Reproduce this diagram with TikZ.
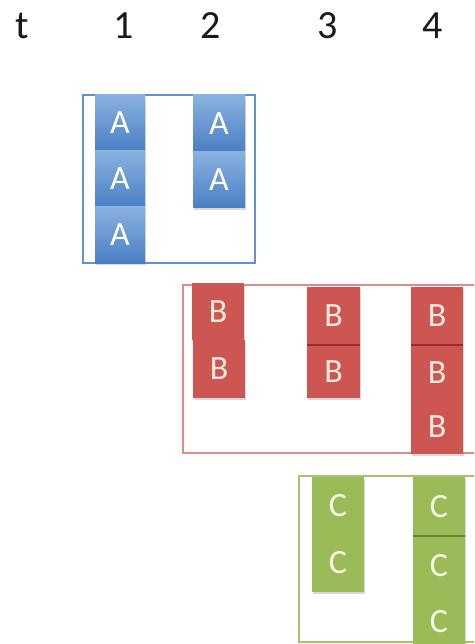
\documentclass[tikz,border=0pt]{standalone}
\usepackage{fontspec}
\setmainfont{Carlito}
\usetikzlibrary{shadows}
\definecolor{atop}{RGB}{138,178,224}
\definecolor{abot}{RGB}{74,126,196}
\definecolor{aframe}{RGB}{96,146,210}
\definecolor{bfill}{RGB}{206,86,82}
\definecolor{bline}{RGB}{150,45,43}
\definecolor{btext}{RGB}{253,236,222}
\definecolor{bframe}{RGB}{226,138,135}
\definecolor{cfill}{RGB}{155,187,89}
\definecolor{cline}{RGB}{105,132,54}
\definecolor{ctext}{RGB}{246,250,230}
\definecolor{cframe}{RGB}{170,194,112}
\tikzset{
  cellbase/.style={inner sep=0pt, font=\fontsize{34}{34}\selectfont,
    drop shadow={opacity=0.3, shadow xshift=1pt, shadow yshift=-2pt}},
  cellA/.style={cellbase, top color=atop, bottom color=abot, text=white},
  cellB/.style={cellbase, fill=bfill, text=btext},
  cellC/.style={cellbase, fill=cfill, text=ctext},
  frameA/.style={draw=aframe, line width=1.3pt},
  frameB/.style={draw=bframe, line width=1.3pt},
  frameC/.style={draw=cframe, line width=1.3pt},
  head/.style={font=\fontsize{40}{40}\selectfont, text=black!90, inner sep=0pt},
  divB/.style={draw=bline, line width=1.6pt},
  divC/.style={draw=cline, line width=1.6pt},
}
\begin{document}
\begin{tikzpicture}[x=1pt,y=-1pt]
\clip (0,0) rectangle (474,644);
\fill[white] (0,0) rectangle (474,644);
% header
\node[head] (ht) at (22,26) {t};
\node[head] (h1) at (124,26) {1};
\node[head] (h2) at (211,26) {2};
\node[head] (h3) at (328,26) {3};
\node[head] (h4) at (433,26) {4};
% frames
\draw[frameA] (83,95) rectangle (255,263);
\draw[frameB] (183,285) rectangle (485,453);
\draw[frameC] (299,476) rectangle (485,642);
% A cells
\node[cellA, minimum width=50pt, minimum height=56pt] (a11) at (120,123) {A};
\node[cellA, minimum width=50pt, minimum height=56pt] (a12) at (120,179) {A};
\node[cellA, minimum width=50pt, minimum height=56pt] (a13) at (120,235) {A};
\node[cellA, minimum width=52pt, minimum height=57pt] (a21) at (219,123.5) {A};
\node[cellA, minimum width=52pt, minimum height=56pt] (a22) at (219,180) {A};
% B cells
\node[cellB, minimum width=52pt, minimum height=57pt] (b11) at (218,311.5) {B};
\node[cellB, minimum width=52pt, minimum height=58pt] (b12) at (219,369) {B};
\node[cellB, minimum width=53pt, minimum height=58pt] (b31) at (333.5,316) {B};
\node[cellB, minimum width=53pt, minimum height=53pt] (b32) at (333.5,371.5) {B};
\node[cellB, minimum width=52pt, minimum height=58pt] (b41) at (437,316) {B};
\node[cellB, minimum width=52pt, minimum height=55pt] (b42) at (437,372.5) {B};
\node[cellB, minimum width=52pt, minimum height=54pt] (b43) at (437,427) {B};
\draw[divB] (b31.south west) -- (b31.south east);
\draw[divB] (b41.south west) -- (b41.south east);
% C cells
\node[cellC, minimum width=52pt, minimum height=57pt] (c31) at (338,505.5) {C};
\node[cellC, minimum width=52pt, minimum height=58pt] (c32) at (338,563) {C};
\node[cellC, minimum width=52pt, minimum height=59pt] (c41) at (439,506.5) {C};
\node[cellC, minimum width=52pt, minimum height=59pt] (c42) at (439,565.5) {C};
\node[cellC, minimum width=52pt, minimum height=54pt] (c43) at (439,622) {C};
\draw[divC] (c41.south west) -- (c41.south east);
\end{tikzpicture}
\end{document}
